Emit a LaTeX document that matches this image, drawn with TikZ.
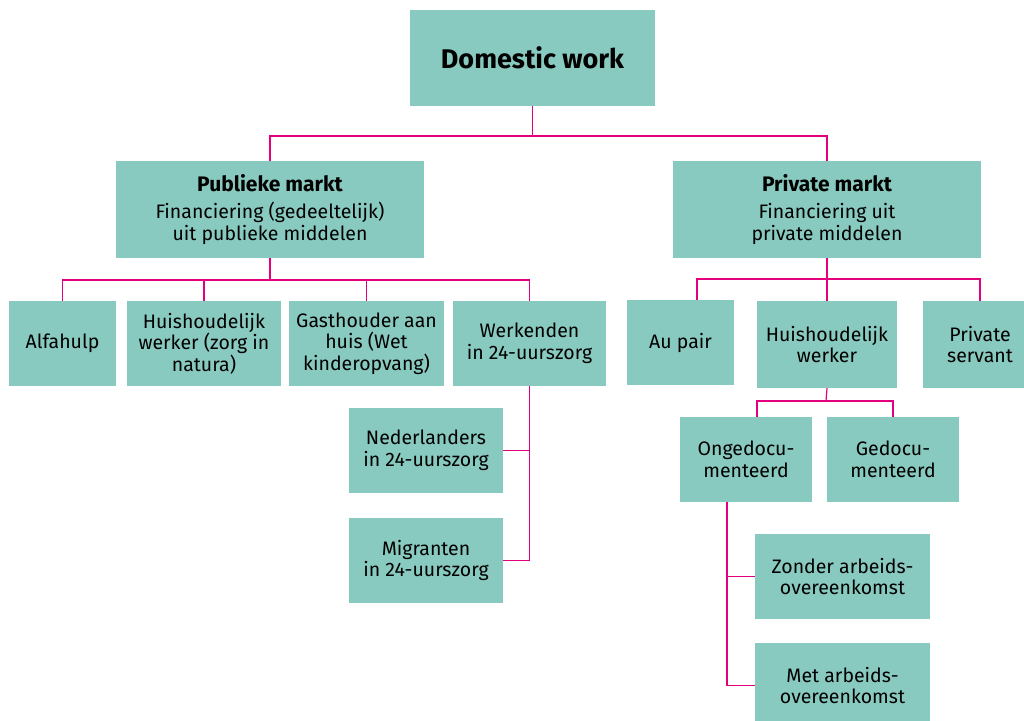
\documentclass[tikz,border=0pt]{standalone}
\usepackage{fontspec}
\setmainfont{Fira Sans}
\usetikzlibrary{positioning,calc}
\definecolor{boxteal}{RGB}{136,202,191}
\definecolor{linkpink}{RGB}{228,0,124}
\newcommand{\markthead}[1]{{\fontsize{21}{24}\selectfont\bfseries #1}}

\begin{document}
\begin{tikzpicture}[x=1pt,y=-1pt,
    box/.style={fill=boxteal, inner sep=0pt, align=center,
      font=\fontsize{19.5}{21.5}\selectfont},
    small/.style={box, minimum width=154pt, minimum height=85pt},
    link/.style={draw=linkpink, line width=1.2pt}]
  \useasboundingbox (0,0) rectangle (1024,720);
  \clip (0,0) rectangle (1024,720);

  % top box
  \node[box, minimum width=245pt, minimum height=96pt,
    font=\fontsize{27}{30}\selectfont\bfseries] (dw) at (532.5,58) {Domestic work};

  % the two markets
  \node[box, minimum width=308pt, minimum height=97pt] (pub) at (270,209.5)
    {\markthead{Publieke markt}\\[6pt] Financiering (gedeeltelijk)\\ uit publieke middelen};
  \node[box, minimum width=308pt, minimum height=97pt] (pri) at (827,209.5)
    {\markthead{Private markt}\\[6pt] Financiering uit\\ private middelen};

  % public market
  \node[small, minimum width=107pt] (alfa) at (62.5,343.5) {Alfahulp};
  \node[small] (hw1) at (204,343.5) {Huishoudelijk\\ werker (zorg in\\ natura)};
  \node[small, minimum width=155pt] (gast) at (366.5,343.5) {Gasthouder aan\\ huis (Wet\\ kinderopvang)};
  \node[small, minimum width=153pt] (werk) at (529.5,343.5) {Werkenden\\ in 24-uurszorg};
  \node[small] (ned) at (426,450.5) {Nederlanders\\ in 24-uurszorg};
  \node[small] (mig) at (426,560.5) {Migranten\\ in 24-uurszorg};

  % private market
  \node[small, minimum width=107pt] (aupair) at (680.5,342.5) {Au pair};
  \node[small, minimum width=140pt, minimum height=87pt] (hw2) at (827,344.5) {Huishoudelijk\\ werker};
  \node[small, minimum width=114pt, minimum height=87pt] (serv) at (980,344.5) {Private\\ servant};
  \node[small, minimum width=132pt] (ongedoc) at (746,459.5) {Ongedocu-\\ menteerd};
  \node[small, minimum width=132pt] (gedoc) at (893,459.5) {Gedocu-\\ menteerd};
  \node[small, minimum width=175pt] (zonder) at (842.5,576.5) {Zonder arbeids-\\ overeenkomst};
  \node[small, minimum width=175pt] (met) at (842.5,685.5) {Met arbeids-\\ overeenkomst};

  % junctions
  \coordinate (j0) at (532.5,136);
  \coordinate (j1) at (270,280);
  \coordinate (j2) at (827,279);
  \coordinate (j3) at (826,401);
  \coordinate (j4) at ([xshift=-19pt]ongedoc.south);

  % links
  \draw[link] (dw.south) -- (j0);
  \draw[link] (pub.north) |- (j0) -| (pri.north);

  \draw[link] (pub.south) -- (j1);
  \draw[link] (alfa.north) |- (j1) -| (werk.north);
  \draw[link] (hw1.north) -- (hw1.north |- j1);
  \draw[link] (gast.north) -- (gast.north |- j1);
  \draw[link] (werk.south) |- (mig.east);
  \draw[link] (ned.east) -- (ned.east -| werk.south);

  \draw[link] (pri.south) -- (hw2.north);
  \draw[link] ([xshift=16.5pt]aupair.north) |- (j2) -| (serv.north);

  \draw[link] (hw2.south) -- (j3);
  \draw[link] ([xshift=11pt]ongedoc.north) |- (j3) -| (gedoc.north);
  \draw[link] (j4) |- (met.west);
  \draw[link] (zonder.west) -- (zonder.west -| j4);
\end{tikzpicture}
\end{document}
